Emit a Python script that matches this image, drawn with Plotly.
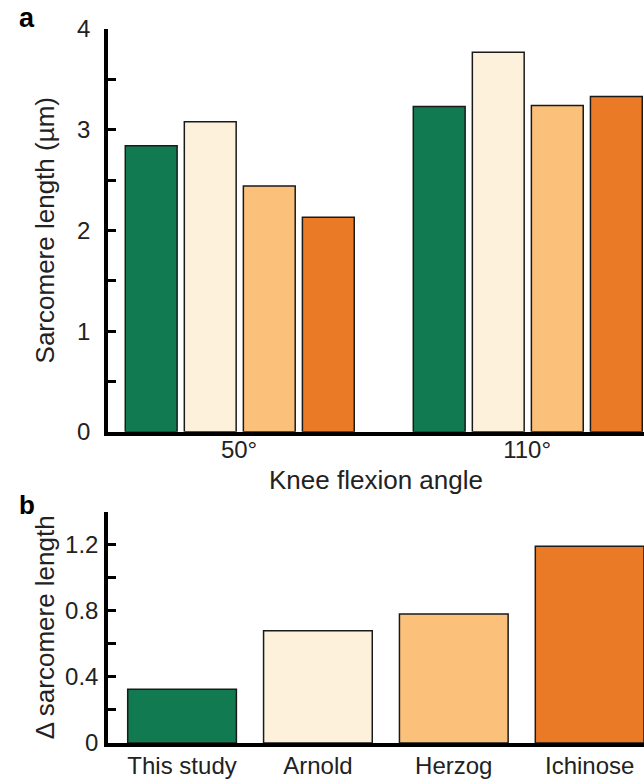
import plotly.graph_objects as go

# ---- data ----
angles = ["50°", "110°"]
studies = ["This study", "Arnold", "Herzog", "Ichinose"]
sl_this_study = [2.84, 3.23]
sl_arnold = [3.08, 3.77]
sl_herzog = [2.44, 3.24]
sl_ichinose = [2.13, 3.33]
delta_sl = [0.325, 0.68, 0.78, 1.19]

a_ticks = [0, 0.5, 1, 1.5, 2, 2.5, 3, 3.5, 4]
a_ticktext = ["0", "", "1", "", "2", "", "3", "", "4"]
b_ticks = [0, 0.2, 0.4, 0.6, 0.8, 1.0, 1.2, 1.4]
b_ticktext = ["0", "", "0.4", "", "0.8", "", "1.2", ""]

colors = ["#117a50", "#fdf1dc", "#fbc079", "#ea7a26"]
FONT = "Liberation Sans, Arial, sans-serif"
TXT = "#222222"

fig = go.Figure()
series = [sl_this_study, sl_arnold, sl_herzog, sl_ichinose]
for i, vals in enumerate(series):
    fig.add_trace(go.Bar(
        x=angles, y=vals, name=studies[i],
        width=0.18, offset=-0.395 + i * 0.205,
        marker=dict(color=colors[i], line=dict(color="#1a1a1a", width=1.5)),
        xaxis="x", yaxis="y", showlegend=False,
    ))

fig.add_trace(go.Bar(
    x=studies, y=delta_sl, width=0.8,
    marker=dict(color=colors, line=dict(color="#1a1a1a", width=1.5)),
    xaxis="x2", yaxis="y2", showlegend=False,
))

axis_common = dict(showgrid=False, zeroline=False, showline=True,
                   linecolor="black", linewidth=3.5,
                   tickfont=dict(family=FONT, size=24, color=TXT))

fig.update_layout(
    width=644, height=779,
    margin=dict(l=108, r=0, t=29, b=34),
    plot_bgcolor="white", paper_bgcolor="white",
    barmode="overlay",
    font=dict(family=FONT, color=TXT),
    xaxis=dict(domain=[0, 1], anchor="y", range=[-0.455, 1.406],
               ticks="", ticklabelstandoff=-6, **axis_common),
    yaxis=dict(domain=[0.4358, 1], anchor="x", range=[0, 4],
               tickvals=a_ticks, ticktext=a_ticktext,
               ticks="inside", ticklen=8, tickwidth=3, tickcolor="black",
               ticklabelstandoff=9, **axis_common),
    xaxis2=dict(domain=[0, 1], anchor="y2", range=[-0.545, 3.40],
                ticks="", ticklabelstandoff=-2, **axis_common),
    yaxis2=dict(domain=[0, 0.324], anchor="x2", range=[0, 1.4],
                tickvals=b_ticks, ticktext=b_ticktext,
                ticks="inside", ticklen=8, tickwidth=3, tickcolor="black",
                ticklabelstandoff=1, **axis_common),
)

ann = [
    dict(text="<b>a</b>", x=-0.17, y=1.039, xanchor="left", yanchor="top",
         font=dict(size=27, color="black")),
    dict(text="<b>b</b>", x=-0.17, y=0.3575, xanchor="left", yanchor="top",
         font=dict(size=26, color="black")),
    dict(text="Sarcomere length (µm)", x=-0.1175, y=(0.4358 + 1) / 2,
         textangle=-90, xanchor="center", yanchor="middle",
         font=dict(size=26, color=TXT)),
    dict(text="Δ sarcomere length", x=-0.1175, y=0.324 / 2,
         textangle=-90, xanchor="center", yanchor="middle",
         font=dict(size=26, color=TXT)),
    dict(text="Knee flexion angle", x=0.5, y=0.3925,
         xanchor="center", yanchor="top",
         font=dict(size=26, color=TXT)),
]
for a in ann:
    a.update(xref="paper", yref="paper", showarrow=False)
    a["font"]["family"] = FONT
fig.update_layout(annotations=ann)

fig.write_html("out.html",
               config={"displayModeBar": False},
               post_script="document.body.style.margin='0';"
                           "document.body.style.overflow='hidden';")
